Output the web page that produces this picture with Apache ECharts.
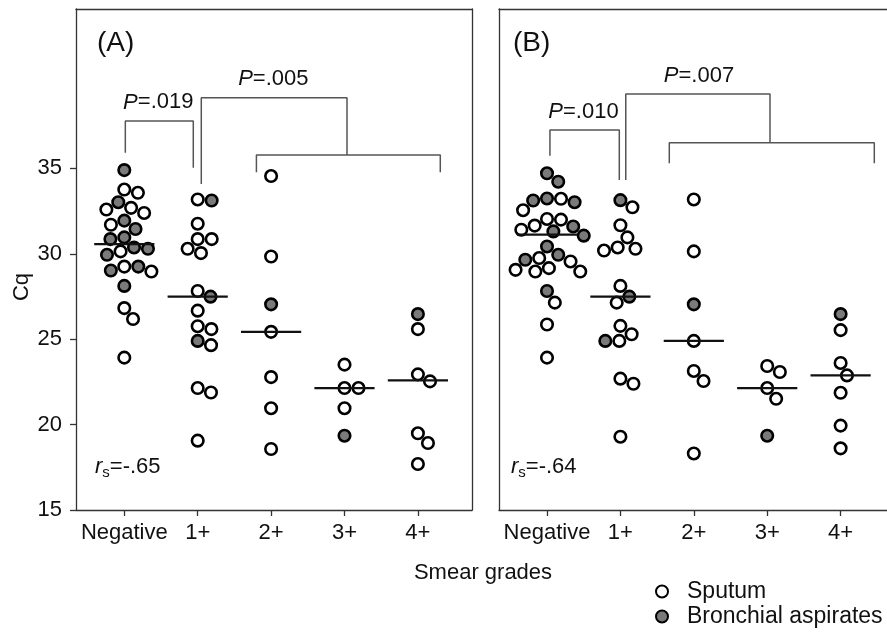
<!DOCTYPE html>
<html>
<head>
<meta charset="utf-8">
<script src="https://cdn.jsdelivr.net/npm/echarts@6/dist/echarts.min.js"></script>
<style>
  html, body { margin: 0; padding: 0; background: #fff; }
  #chart { width: 887px; height: 632px; }
</style>
</head>
<body>
<div id="chart"></div>
<script>
// smear grade categories and axis ticks
const grades = ['Negative', '1+', '2+', '3+', '4+'];
const yTicks = [15, 20, 25, 30, 35];

// (A) Cq values per smear grade
const aSputum = [
  [33.76, 33.57, 32.69, 32.59, 32.39, 31.7, 30.14, 29.25, 28.96, 26.82, 26.18, 23.92],
  [33.18, 31.76, 30.86, 30.86, 30.29, 30.04, 27.82, 26.67, 25.76, 25.59, 24.65, 22.14, 21.88, 19.06],
  [34.55, 29.84, 25.43, 22.78, 20.96, 18.57],
  [23.51, 22.14, 22.14, 20.96],
  [25.59, 22.94, 22.53, 19.49, 18.92, 17.69]
];
const aBronch = [
  [34.9, 33.02, 31.94, 31.45, 30.96, 30.86, 30.37, 30.29, 29.94, 29.25, 29.02, 28.12],
  [33.12, 27.49, 24.9],
  [27.04],
  [19.35],
  [26.47]
];
const aMedian = [30.57, 27.49, 25.43, 22.14, 22.59];
const aP = ['=.019', '=.005'];
const aRs = '=-.65';

// (B) Cq values per smear grade
const bSputum = [
  [33.22, 32.55, 32.04, 32.0, 31.65, 31.41, 29.75, 29.55, 29.16, 29.06, 28.96, 28.96, 27.14, 25.86, 23.92],
  [32.72, 31.67, 30.96, 30.37, 30.29, 30.19, 28.12, 27.14, 25.78, 25.29, 24.9, 22.69, 22.39, 19.29],
  [33.18, 30.14, 24.9, 23.14, 22.55, 18.31],
  [23.43, 23.08, 22.14, 21.51],
  [25.53, 23.61, 22.88, 21.86, 19.94, 18.61]
];
const bBronch = [
  [34.71, 34.22, 33.24, 33.12, 33.02, 31.6, 31.31, 31.06, 30.43, 29.94, 29.65, 27.82],
  [33.14, 27.49, 24.9],
  [27.04],
  [19.35],
  [26.47]
];
const bMedian = [31.12, 27.49, 24.9, 22.14, 22.88];
const bP = ['=.010', '=.007'];
const bRs = '=-.64';

// layout
const FONT = '"Liberation Sans", Arial, sans-serif';
const INK = '#111';
const AXIS = '#333';
const GRAY = '#7a7a7a';
const yMin = 15, yMax = 44.33;
const panels = [
  { left: 76, width: 396, xMin: -0.658, xMax: 4.737, rightBorder: true, sputum: aSputum, bronch: aBronch, median: aMedian, p: aP, rs: aRs, tag: '(A)', tagX: 97, rsX: 95,
    brackets: [
      [[0.014, 35.92], [0.014, 37.78], [0.94, 37.78], [0.94, 35.04]],
      [[1.049, 34.09], [1.049, 39.14], [3.034, 39.14], [3.034, 35.78]],
      [[1.80, 34.77], [1.80, 35.78], [4.305, 35.78], [4.305, 34.77]]
    ],
    pPos: [[0.463, 38.86], [2.03, 40.23]] },
  // panel B is cut off at the right edge of the picture (no right border)
  { left: 499, width: 388, xMin: -0.654, xMax: 4.632, rightBorder: false, sputum: bSputum, bronch: bBronch, median: bMedian, p: bP, rs: bRs, tag: '(B)', tagX: 513, rsX: 511,
    brackets: [
      [[0.04, 35.74], [0.04, 37.25], [0.985, 37.25], [0.985, 34.32]],
      [[1.073, 34.32], [1.073, 39.36], [3.038, 39.36], [3.038, 36.5]],
      [[1.666, 35.3], [1.666, 36.5], [4.459, 36.5], [4.459, 35.3]]
    ],
    pPos: [[0.497, 38.33], [2.07, 40.44]] }
];
const gridTop = 9, gridHeight = 501;
const D = 14; // marker spacing in px for the swarm

// simple beeswarm: offsets in x units so circles don't overlap
function swarm(vals, ppx, ppy) {
  const order = vals.map((v, i) => i).sort((a, b) => vals[b] - vals[a]);
  const placed = [];
  const off = [];
  order.forEach(i => {
    const y = vals[i] * ppy;
    const cands = [0];
    placed.forEach(p => {
      const dy = Math.abs(p.y - y);
      if (dy < D) {
        const dx = Math.sqrt(D * D - dy * dy);
        cands.push(p.x + dx, p.x - dx);
      }
    });
    cands.sort((a, b) => Math.abs(a) - Math.abs(b));
    const x = cands.find(c => placed.every(p => (p.x - c) ** 2 + (p.y - y) ** 2 >= D * D - 0.01));
    placed.push({ x: x, y: y });
    off[i] = x / ppx;
  });
  return off;
}

const grids = [], xAxes = [], yAxes = [], series = [], graphic = [];
const lineOnly = { axisTick: { show: false }, axisLabel: { show: false }, splitLine: { show: false } };

panels.forEach((pn, k) => {
  grids.push({ left: pn.left, top: gridTop, width: pn.width, height: gridHeight, show: false });
  xAxes.push({
    type: 'value', gridIndex: k, min: pn.xMin, max: pn.xMax, position: 'bottom',
    axisLine: { onZero: false, lineStyle: { color: AXIS, width: 1.3 } },
    axisTick: { customValues: [0, 1, 2, 3, 4], length: 6, lineStyle: { color: AXIS, width: 1.3 } },
    axisLabel: { customValues: [0, 1, 2, 3, 4], formatter: v => grades[Math.round(v)], margin: 12,
      color: INK, fontSize: 22, fontFamily: FONT },
    splitLine: { show: false }
  });
  yAxes.push({
    type: 'value', gridIndex: k, min: yMin, max: yMax, position: 'left',
    axisLine: { show: true, onZero: false, lineStyle: { color: AXIS, width: 1.3 } },
    axisTick: { show: k === 0, customValues: yTicks, length: 6, lineStyle: { color: AXIS, width: 1.3 } },
    axisLabel: { show: k === 0, customValues: yTicks, margin: 14, color: INK, fontSize: 22, fontFamily: FONT },
    splitLine: { show: false }
  });
  // frame: top line (and right line for panel A)
  xAxes.push({ type: 'value', gridIndex: k, min: pn.xMin, max: pn.xMax, position: 'top',
    axisLine: { show: true, onZero: false, lineStyle: { color: AXIS, width: 1.3 } }, ...lineOnly });
  if (pn.rightBorder) {
    yAxes.push({ type: 'value', gridIndex: k, min: yMin, max: yMax, position: 'right',
      axisLine: { show: true, onZero: false, lineStyle: { color: AXIS, width: 1.3 } }, ...lineOnly });
  }
  const xi = xAxes.length - 2;
  const yi = yAxes.length - (pn.rightBorder ? 2 : 1);

  const ppx = pn.width / (pn.xMax - pn.xMin);
  const ppy = gridHeight / (yMax - yMin);
  const sp = [], br = [];
  grades.forEach((g, gi) => {
    const vals = pn.sputum[gi].concat(pn.bronch[gi]);
    const off = swarm(vals, ppx, ppy);
    vals.forEach((v, j) => {
      const pt = [gi + off[j], v];
      if (j < pn.sputum[gi].length) sp.push(pt); else br.push(pt);
    });
  });
  const mk = { symbol: 'circle', symbolSize: 11.5 };
  series.push({ name: 'Sputum', type: 'scatter', xAxisIndex: xi, yAxisIndex: yi, data: sp, ...mk,
    itemStyle: { color: '#fff', borderColor: '#000', borderWidth: 2.6, opacity: 1 }, z: 3 });
  series.push({ name: 'Bronchial aspirates', type: 'scatter', xAxisIndex: xi, yAxisIndex: yi, data: br, ...mk,
    itemStyle: { color: GRAY, borderColor: '#000', borderWidth: 2.6, opacity: 1 }, z: 3 });

  // median bars
  series.push({
    type: 'custom', xAxisIndex: xi, yAxisIndex: yi, z: 4, silent: true,
    data: pn.median.map((m, i) => [i, m]),
    renderItem: (params, api) => {
      const a = api.coord([api.value(0) - 0.41, api.value(1)]);
      const b = api.coord([api.value(0) + 0.41, api.value(1)]);
      return { type: 'line', shape: { x1: a[0], y1: a[1], x2: b[0], y2: b[1] }, style: { stroke: INK, lineWidth: 2.2 } };
    }
  });

  // significance brackets
  pn.brackets.forEach(b => {
    series.push({ type: 'line', xAxisIndex: xi, yAxisIndex: yi, data: b, symbol: 'none', silent: true,
      lineStyle: { color: '#555', width: 1.5 }, z: 2 });
  });
  // P-value texts
  series.push({
    type: 'custom', xAxisIndex: xi, yAxisIndex: yi, silent: true, z: 5,
    data: pn.pPos.map(p => p.slice()),
    renderItem: (params, api) => {
      const c = api.coord([api.value(0), api.value(1)]);
      return { type: 'text', x: c[0], y: c[1], style: {
        text: '{i|P}{n|' + pn.p[params.dataIndex] + '}', align: 'center', verticalAlign: 'middle',
        rich: {
          i: { fontStyle: 'italic', fontSize: 22, fontFamily: FONT, fill: INK },
          n: { fontSize: 22, fontFamily: FONT, fill: INK }
        } } };
    }
  });

  graphic.push({ type: 'text', left: pn.tagX, top: 29, style: { text: pn.tag, font: '28px ' + FONT, fill: INK } });
  graphic.push({ type: 'text', left: pn.rsX, top: 456, style: {
    text: '{r|r}{s|s}{t|' + pn.rs + '}',
    rich: {
      r: { fontStyle: 'italic', fontSize: 22, fontFamily: FONT, fill: INK },
      s: { fontSize: 15, fontFamily: FONT, padding: [12, 0, 0, 0], fill: INK },
      t: { fontSize: 22, fontFamily: FONT, fill: INK }
    } } });
});

graphic.push({ type: 'text', x: 22, y: 287, rotation: Math.PI / 2, style: { text: 'Cq', font: '22px ' + FONT, fill: INK, align: 'center', verticalAlign: 'middle' } });
graphic.push({ type: 'text', x: 483, y: 573, style: { text: 'Smear grades', font: '22px ' + FONT, fill: INK, align: 'center', verticalAlign: 'middle' } });

const chart = echarts.init(document.getElementById('chart'));
chart.setOption({
  animation: false,
  backgroundColor: '#fff',
  grid: grids,
  xAxis: xAxes,
  yAxis: yAxes,
  legend: {
    data: ['Sputum', 'Bronchial aspirates'],
    orient: 'vertical', left: 650, top: 575, itemGap: 2, height: 56,
    icon: 'circle', itemWidth: 12, itemHeight: 12,
    textStyle: { fontSize: 23, lineHeight: 20, fontFamily: FONT, color: INK, padding: [0, 0, 0, 14] },
    selectedMode: false
  },
  graphic: graphic,
  series: series
});
</script>
</body>
</html>
